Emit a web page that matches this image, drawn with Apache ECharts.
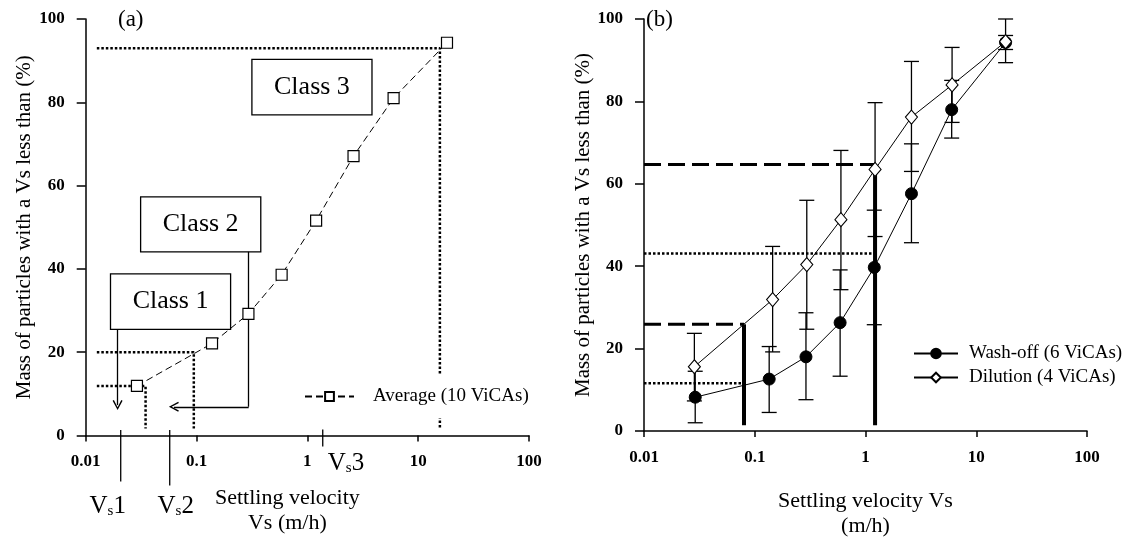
<!DOCTYPE html>
<html>
<head>
<meta charset="utf-8">
<title>Settling velocity distributions</title>
<script src="https://cdn.jsdelivr.net/npm/echarts@6/dist/echarts.min.js"></script>
<style>
  html, body { margin: 0; padding: 0; background: #fff; }
  #chart { width: 1128px; height: 544px; }
</style>
</head>
<body>
<div id="chart"></div>
<script>
// ---------- data ----------
const xTickLabels = ['0.01', '0.1', '1', '10', '100'];

// (a) average of 10 ViCAs
const avgVs   = [0.029, 0.138, 0.294, 0.586, 1.2, 2.61, 6.0, 18.2];
const avgMass = [11.9, 22.1, 29.2, 38.6, 51.6, 67.1, 81.0, 94.3];

// (a) class limits: settling velocity and cumulative mass at each cut
const cutVsA   = [0.0347, 0.0945, 15.7];
const cutMassA = [11.9, 20.0, 93.0];

// (a) class boxes
const classNames   = ['Class 1', 'Class 2', 'Class 3'];
const classBoxVs   = [[0.01674, 0.203], [0.0313, 0.380], [0.316, 3.83]];
const classBoxMass = [[25.5, 38.8], [44.1, 57.3], [77.0, 90.3]];

// (a) arrows from class boxes: [vs, mass] points
const arrowClass1 = [[0.0194, 25.5], [0.0194, 7.3]];
const arrowClass2 = [[0.2956, 44.1], [0.2956, 6.9], [0.0625, 6.9]];

// (a) Vs1, Vs2, Vs3 marks on the velocity axis
const vsMarks     = [0.0207, 0.0573, 1.377];
const vsMarkNames = ['1', '2', '3'];

// (b) wash-off, 6 ViCAs
const washVs   = [0.029, 0.135, 0.29, 0.59, 1.2, 2.6, 6.0, 18.4];
const washMass = [8.2, 12.6, 18.0, 26.3, 39.7, 57.6, 78.0, 94.3];
const washLow  = [2.0, 4.5, 7.6, 13.3, 25.8, 45.7, 71.1, 92.6];
const washHigh = [14.5, 20.5, 28.7, 39.1, 53.6, 69.7, 85.1, 96.0];

// (b) dilution, 4 ViCAs
const diluVs   = [0.0285, 0.145, 0.295, 0.6, 1.22, 2.6, 6.05, 18.4];
const diluMass = [15.6, 31.9, 40.4, 51.3, 63.5, 76.2, 84.0, 94.5];
const diluLow  = [7.3, 19.2, 24.7, 34.3, 47.2, 63.0, 74.9, 89.4];
const diluHigh = [23.7, 44.8, 56.0, 68.1, 79.7, 89.7, 93.1, 100.0];

// (b) class limits
const cutVsB   = [0.08, 1.22];
const cutWashB = [11.6, 43.1];   // dotted
const cutDiluB = [25.9, 64.7];   // dashed

// ---------- helpers ----------
const FONT = '"Liberation Serif", "Times New Roman", serif';
const BLACK = '#000';
const zip = (xs, ys) => xs.map((x, i) => [x, ys[i]]);
const X0 = 0.0126;   // left start of the guide lines in (a)
const Y0 = 1.7;      // bottom end of the guide lines

const chevron = 'path://M5,0 L10,9 L8.7,9.7 L5,2.7 L1.3,9.7 L0,9 Z';

function xAxisOf(gridIndex, name, nameGap, namePad) {
  return {
    type: 'log', logBase: 10, gridIndex, min: 0.01, max: 100,
    axisLine: { onZero: false, lineStyle: { color: BLACK, width: 1.5 } },
    axisTick: { show: true, length: 6, lineStyle: { color: BLACK, width: 1.5 } },
    minorTick: { show: false }, splitLine: { show: false },
    axisLabel: {
      fontFamily: FONT, fontSize: 17, fontWeight: 'bold', color: BLACK, margin: 18,
      formatter: v => xTickLabels[Math.round(Math.log10(v)) + 2]
    },
    name, nameLocation: 'middle', nameGap,
    nameTextStyle: { fontFamily: FONT, fontSize: 22, color: BLACK, lineHeight: 25, padding: namePad }
  };
}
function yAxisOf(gridIndex, nameGap) {
  return {
    type: 'value', gridIndex, min: 0, max: 100, interval: 20,
    axisLine: { show: true, lineStyle: { color: BLACK, width: 1.5 } },
    axisTick: { show: true, length: 9, lineStyle: { color: BLACK, width: 1.5 } },
    splitLine: { show: false },
    axisLabel: { fontFamily: FONT, fontSize: 17, fontWeight: 'bold', color: BLACK, margin: 21 },
    name: 'Mass of particles with a Vs less than (%)',
    nameLocation: 'middle', nameGap,
    nameTextStyle: { fontFamily: FONT, fontSize: 21, color: BLACK }
  };
}
function guide(gridIndex, points, style) {
  return {
    type: 'line', xAxisIndex: gridIndex, yAxisIndex: gridIndex,
    data: points, symbol: 'none', silent: true, z: 2,
    lineStyle: Object.assign({ color: BLACK }, style)
  };
}
function errorBars(xs, lows, highs) {
  return {
    type: 'custom', xAxisIndex: 1, yAxisIndex: 1, z: 3, silent: true, clip: false,
    data: xs.map((x, i) => [x, lows[i], highs[i]]),
    renderItem(params, api) {
      const lo = api.coord([api.value(0), api.value(1)]);
      const hi = api.coord([api.value(0), api.value(2)]);
      const cap = 7.5;
      const st = { stroke: BLACK, lineWidth: 1.3 };
      return {
        type: 'group',
        children: [
          { type: 'line', shape: { x1: lo[0], y1: lo[1], x2: hi[0], y2: hi[1] }, style: st },
          { type: 'line', shape: { x1: lo[0] - cap, y1: lo[1], x2: lo[0] + cap, y2: lo[1] }, style: st },
          { type: 'line', shape: { x1: hi[0] - cap, y1: hi[1], x2: hi[0] + cap, y2: hi[1] }, style: st }
        ]
      };
    }
  };
}

const DOTTED = { width: 2.5, type: [2.5, 2] };
const DASHED = { width: 3, type: [17, 7] };
const THICK  = { width: 4, type: 'solid' };

// ---------- series ----------
const series = [];

// (a) dotted class limits
cutVsA.forEach((v, i) => {
  series.push(guide(0, [[X0, cutMassA[i]], [v, cutMassA[i]], [v, Y0]], DOTTED));
});

// (a) class boxes and arrows
const arrowLine = (a, b, head) => [
  { coord: a, symbol: 'none' },
  { coord: b, symbol: head ? chevron : 'none', symbolSize: [10, 10] }
];
series.push({
  type: 'line', xAxisIndex: 0, yAxisIndex: 0, data: [], silent: true, z: 4,
  markArea: {
    silent: true,
    itemStyle: { color: '#fff', borderColor: BLACK, borderWidth: 1.3 },
    label: { show: true, position: 'inside', fontFamily: FONT, fontSize: 26, color: BLACK },
    data: classNames.map((n, i) => [
      { name: n, coord: [classBoxVs[i][0], classBoxMass[i][1]] },
      { coord: [classBoxVs[i][1], classBoxMass[i][0]] }
    ])
  },
  markLine: {
    silent: true, animation: false,
    lineStyle: { color: BLACK, width: 1.3, type: 'solid' },
    label: { show: false },
    data: [
      arrowLine(arrowClass1[0], arrowClass1[1], true),
      arrowLine(arrowClass2[0], arrowClass2[1], false),
      arrowLine(arrowClass2[1], arrowClass2[2], true)
    ]
  }
});

// (a) average curve
series.push({
  name: 'Average (10 ViCAs)', type: 'line', xAxisIndex: 0, yAxisIndex: 0,
  data: zip(avgVs, avgMass), z: 6,
  symbol: 'rect', symbolSize: 11,
  lineStyle: { color: BLACK, width: 1, type: [7, 4] },
  itemStyle: { color: '#fff', borderColor: BLACK, borderWidth: 1.2 }
});

// (b) class limits
cutVsB.forEach((v, i) => {
  series.push(guide(1, [[0.01, cutWashB[i]], [v, cutWashB[i]]], DOTTED));
  series.push(guide(1, [[0.01, cutDiluB[i]], [v, cutDiluB[i]]], DASHED));
  series.push(guide(1, [[v, Y0 - 0.3], [v, cutDiluB[i]]], THICK));
});

// (b) error bars
series.push(errorBars(washVs, washLow, washHigh));
series.push(errorBars(diluVs, diluLow, diluHigh));

// (b) curves
series.push({
  name: 'Wash-off (6 ViCAs)', type: 'line', xAxisIndex: 1, yAxisIndex: 1,
  data: zip(washVs, washMass), z: 6,
  symbol: 'circle', symbolSize: 12,
  lineStyle: { color: BLACK, width: 1 },
  itemStyle: { color: BLACK, borderColor: BLACK, borderWidth: 1 }
});
series.push({
  name: 'Dilution (4 ViCAs)', type: 'line', xAxisIndex: 1, yAxisIndex: 1,
  data: zip(diluVs, diluMass), z: 7,
  symbol: 'diamond', symbolSize: [12, 14],
  lineStyle: { color: BLACK, width: 1 },
  itemStyle: { color: '#fff', borderColor: BLACK, borderWidth: 1.1 }
});

const legendText = { fontFamily: FONT, fontSize: 19, color: BLACK };

const option = {
  animation: false,
  backgroundColor: '#fff',
  title: [
    { text: '(a)', left: 118, top: 8, padding: 0,
      textStyle: { fontFamily: FONT, fontSize: 23, fontWeight: 'normal', color: BLACK } },
    { text: '(b)', left: 646, top: 8, padding: 0,
      textStyle: { fontFamily: FONT, fontSize: 23, fontWeight: 'normal', color: BLACK } }
  ],
  grid: [
    { left: 85.7, right: 599, top: 19, bottom: 108.5 },
    { left: 644, right: 41, top: 19, bottom: 108.5 }
  ],
  xAxis: [
    xAxisOf(0, 'Settling velocity\nVs (m/h)', 50, [0, 40, 0, 0]),
    xAxisOf(1, 'Settling velocity Vs\n(m/h)', 58, 0)
  ],
  yAxis: [yAxisOf(0, 49), yAxisOf(1, 45)],
  legend: [
    {
      data: ['Average (10 ViCAs)'], left: 304, top: 375, padding: [12, 6, 12, 0],
      backgroundColor: '#fff', itemWidth: 49, itemHeight: 11, selectedMode: false,
      textStyle: Object.assign({ padding: [0, 0, 0, 14] }, legendText)
    },
    {
      data: ['Wash-off (6 ViCAs)', 'Dilution (4 ViCAs)'], orient: 'vertical',
      left: 913, top: 344, padding: 0, itemGap: 5, itemWidth: 44, itemHeight: 12,
      selectedMode: false,
      textStyle: Object.assign({ padding: [0, 0, 0, 6] }, legendText)
    }
  ],
  series
};

const chart = echarts.init(document.getElementById('chart'), null, { renderer: 'canvas' });
chart.setOption(option);

// Vs1 / Vs2 / Vs3 marks hang below the velocity axis of (a)
const vsTickSpan = [[-5.5, 46], [-5.5, 50], [-6, 11]];
const vsLabelAt  = [[-13, 71, 'center'], [6, 71, 'center'], [5, 28, 'left']];
const vsRich = {
  v: { fontFamily: FONT, fontSize: 25, color: BLACK },
  s: { fontFamily: FONT, fontSize: 15, color: BLACK, verticalAlign: 'bottom', padding: [10, 0, 0, 0] }
};
const graphics = [];
vsMarks.forEach((v, i) => {
  const p = chart.convertToPixel({ xAxisIndex: 0, yAxisIndex: 0 }, [v, 0]);
  graphics.push({
    type: 'line', silent: true,
    shape: { x1: p[0], y1: p[1] + vsTickSpan[i][0], x2: p[0], y2: p[1] + vsTickSpan[i][1] },
    style: { stroke: BLACK, lineWidth: 1.3 }
  });
  graphics.push({
    type: 'text', silent: true,
    x: p[0] + vsLabelAt[i][0], y: p[1] + vsLabelAt[i][1],
    style: {
      text: '{v|V}{s|s}{v|' + vsMarkNames[i] + '}', rich: vsRich,
      align: vsLabelAt[i][2], verticalAlign: 'middle'
    }
  });
});
chart.setOption({ graphic: graphics });
</script>
</body>
</html>
